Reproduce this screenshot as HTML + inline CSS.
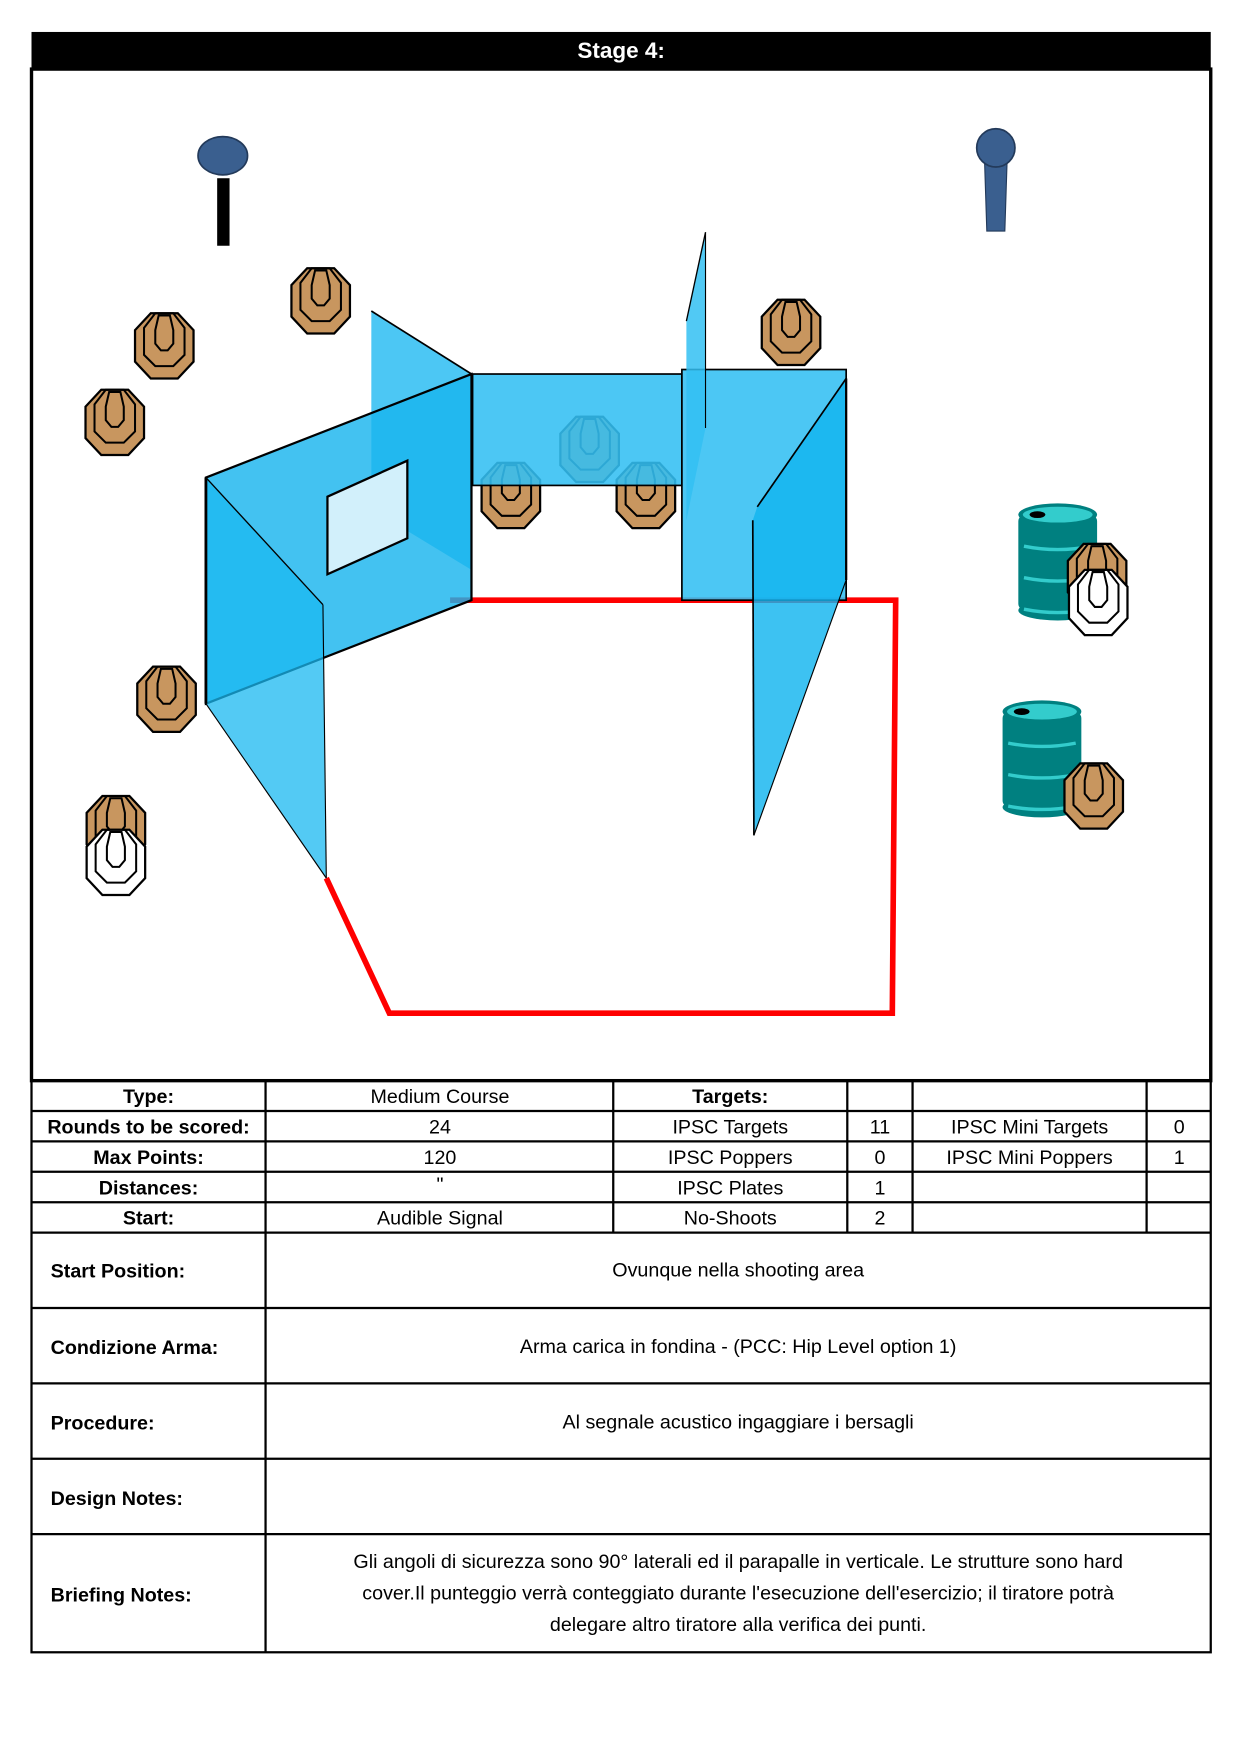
<!DOCTYPE html>
<html><head><meta charset="utf-8"><style>
html,body{margin:0;padding:0;background:#fff}
svg{display:block}
text{font-family:"Liberation Sans",sans-serif}
</style></head><body>
<svg width="1240" height="1754" viewBox="0 0 1102 1558" xmlns="http://www.w3.org/2000/svg">
<defs>
<g id="tg">
<polygon points="-12,-29 12,-29 26,-14 26,14 12,29 -12,29 -26,14 -26,-14" stroke="#000" stroke-width="2"/>
<polygon points="-8,-29 8,-29 18,-16 18,8 8,18 -8,18 -18,8 -18,-16" fill="none" stroke="#000" stroke-width="1.8"/>
<polygon points="-5,-27 5,-27 8,-14 8,-2 3,4 -3,4 -8,-2 -8,-14" fill="none" stroke="#000" stroke-width="1.8"/>
</g>
<g id="barrel">
<rect x="-35" y="0" width="70" height="85" rx="6" fill="#008080"/>
<ellipse cx="0" cy="85" rx="35" ry="9" fill="#008080"/>
<ellipse cx="0" cy="0" rx="35" ry="10" fill="#008080"/>
<ellipse cx="0" cy="0" rx="31" ry="7" fill="#33cccc"/>
<ellipse cx="-18" cy="0" rx="7" ry="3" fill="#000"/>
<path d="M-30,28 Q0,34 30,28 M-30,56 Q0,62 30,56 M-30,84 Q0,90 30,84" stroke="#33cccc" stroke-width="3" fill="none"/>
</g>
</defs>

<!-- header -->
<rect x="28" y="28" width="1048" height="33" fill="#000"/>
<text x="552" y="51" fill="#fff" font-size="20" font-weight="bold" text-anchor="middle">Stage 4:</text>
<rect x="28" y="61" width="1048" height="899" fill="#fff" stroke="#000" stroke-width="3"/>

<!-- poppers -->
<rect x="193" y="158" width="11" height="60" fill="#000"/>
<ellipse cx="198" cy="138" rx="22" ry="17" fill="#3a5f8f" stroke="#233a5a" stroke-width="1.5"/>
<polygon points="875,143 895,143 893,205 877,205" fill="#3a5f8f" stroke="#233a5a" stroke-width="1"/>
<circle cx="885" cy="131" r="17" fill="#3a5f8f" stroke="#233a5a" stroke-width="1.5"/>

<!-- targets -->
<g fill="#c8965f">
<use href="#tg" transform="translate(285,267)"/>
<use href="#tg" transform="translate(146,307)"/>
<use href="#tg" transform="translate(102,375)"/>
<use href="#tg" transform="translate(703,295)"/>
<use href="#tg" transform="translate(454,440)"/>
<use href="#tg" transform="translate(574,440)"/>
<use href="#tg" transform="translate(148,621)"/>
<use href="#tg" transform="translate(103,736)"/>
<use href="#tg" transform="translate(524,399)"/>
</g>
<use href="#tg" transform="translate(103,766)" fill="#fff"/>

<!-- barrels -->
<use href="#barrel" transform="translate(940,457)"/>
<use href="#barrel" transform="translate(926,632)"/>
<use href="#tg" transform="translate(975,512)" fill="#c8965f"/>
<use href="#tg" transform="translate(976,535)" fill="#fff"/>
<use href="#tg" transform="translate(972,707)" fill="#c8965f"/>

<!-- red shooting area -->
<polyline points="290,780 346,900 793,900 796,533 400,533" fill="none" stroke="#ff0000" stroke-width="5"/>

<!-- panels -->
<rect x="420" y="332" width="186" height="99" fill="#33bff2" fill-opacity="0.88" stroke="#000" stroke-width="1.5"/>
<polygon points="330,276 419,332 419,506 330,452" fill="#33bff2" fill-opacity="0.88"/>
<line x1="330" y1="276" x2="419" y2="332" stroke="#000" stroke-width="1.5"/>
<polygon points="183,424 419,332 419,533 183,625" fill="#1ab4ee" fill-opacity="0.82" stroke="#000" stroke-width="2"/>
<polygon points="183,424 287,537 290,780 183,625" fill="#1ab8f0" fill-opacity="0.75"/>
<line x1="183" y1="424" x2="287" y2="537" stroke="#000" stroke-width="1.2"/>
<line x1="287" y1="537" x2="290" y2="780" stroke="#000" stroke-width="1"/>
<line x1="183" y1="625" x2="290" y2="780" stroke="#000" stroke-width="1"/>
<line x1="183" y1="424" x2="183" y2="625" stroke="#000" stroke-width="2.5"/>
<polygon points="291,441 362,409 362,478 291,510" fill="#d2f0fb" stroke="#000" stroke-width="2"/>

<rect x="606" y="328" width="146" height="205" fill="#33bff2" fill-opacity="0.88" stroke="#000" stroke-width="1.5"/>
<polygon points="752,336 673,450 669,462 670,742 752,515" fill="#12b4ef" fill-opacity="0.82"/>
<polyline points="752,336 673,450" fill="none" stroke="#000" stroke-width="1.5"/>
<line x1="669" y1="462" x2="670" y2="742" stroke="#000" stroke-width="1.5"/>
<line x1="670" y1="742" x2="752" y2="515" stroke="#000" stroke-width="1"/>
<line x1="752" y1="336" x2="752" y2="515" stroke="#000" stroke-width="2"/>
<polygon points="610,285 627,206 627,380 610,462" fill="#33bff2" fill-opacity="0.85"/>
<line x1="610" y1="285" x2="627" y2="206" stroke="#000" stroke-width="1.2"/>
<line x1="627" y1="206" x2="627" y2="380" stroke="#000" stroke-width="1"/>

<!-- table -->
<g stroke="#000" stroke-width="2" fill="none">
<rect x="28" y="960" width="1048" height="508"/>
<line x1="28" y1="987" x2="1076" y2="987"/>
<line x1="28" y1="1014" x2="1076" y2="1014"/>
<line x1="28" y1="1041" x2="1076" y2="1041"/>
<line x1="28" y1="1068" x2="1076" y2="1068"/>
<line x1="28" y1="1095" x2="1076" y2="1095"/>
<line x1="28" y1="1162" x2="1076" y2="1162"/>
<line x1="28" y1="1229" x2="1076" y2="1229"/>
<line x1="28" y1="1296" x2="1076" y2="1296"/>
<line x1="28" y1="1363" x2="1076" y2="1363"/>
<line x1="236" y1="960" x2="236" y2="1468"/>
<line x1="545" y1="960" x2="545" y2="1095"/>
<line x1="753" y1="960" x2="753" y2="1095"/>
<line x1="811" y1="960" x2="811" y2="1095"/>
<line x1="1019" y1="960" x2="1019" y2="1095"/>
</g>
<g font-size="17.5" text-anchor="middle" fill="#000">
<text x="132" y="980" font-weight="bold">Type:</text>
<text x="132" y="1007" font-weight="bold">Rounds to be scored:</text>
<text x="132" y="1034" font-weight="bold">Max Points:</text>
<text x="132" y="1061" font-weight="bold">Distances:</text>
<text x="132" y="1088" font-weight="bold">Start:</text>
<text x="391" y="980">Medium Course</text>
<text x="391" y="1007">24</text>
<text x="391" y="1034">120</text>
<text x="391" y="1058">"</text>
<text x="391" y="1088">Audible Signal</text>
<text x="649" y="980" font-weight="bold">Targets:</text>
<text x="649" y="1007">IPSC Targets</text>
<text x="649" y="1034">IPSC Poppers</text>
<text x="649" y="1061">IPSC Plates</text>
<text x="649" y="1088">No-Shoots</text>
<text x="782" y="1007">11</text>
<text x="782" y="1034">0</text>
<text x="782" y="1061">1</text>
<text x="782" y="1088">2</text>
<text x="915" y="1007">IPSC Mini Targets</text>
<text x="915" y="1034">IPSC Mini Poppers</text>
<text x="1048" y="1007">0</text>
<text x="1048" y="1034">1</text>
<text x="656" y="1134">Ovunque nella shooting area</text>
<text x="656" y="1202">Arma carica in fondina - (PCC: Hip Level option 1)</text>
<text x="656" y="1269">Al segnale acustico ingaggiare i bersagli</text>
<text x="656" y="1393">Gli angoli di sicurezza sono 90° laterali ed il parapalle in verticale. Le strutture sono hard</text>
<text x="656" y="1421">cover.Il punteggio verrà conteggiato durante l'esecuzione dell'esercizio; il tiratore potrà</text>
<text x="656" y="1449">delegare altro tiratore alla verifica  dei punti.</text>
</g>
<g font-size="17.5" font-weight="bold" fill="#000">
<text x="45" y="1135">Start Position:</text>
<text x="45" y="1203">Condizione Arma:</text>
<text x="45" y="1270">Procedure:</text>
<text x="45" y="1337">Design Notes:</text>
<text x="45" y="1423">Briefing Notes:</text>
</g>
</svg>
</body></html>
